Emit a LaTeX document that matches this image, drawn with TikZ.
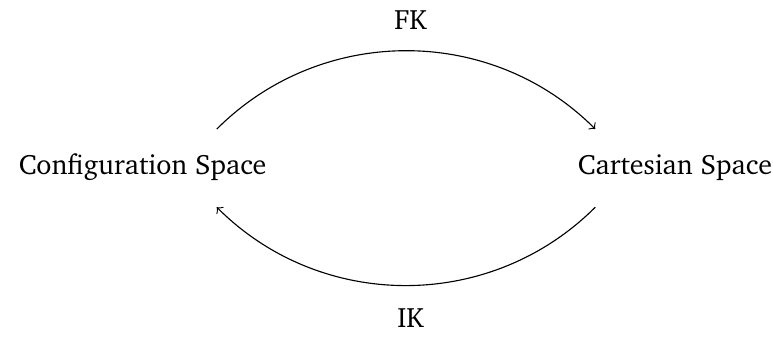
\documentclass[tikz,border=0pt]{standalone}
\usepackage[T1]{fontenc}
\renewcommand{\rmdefault}{bch}
\begin{document}
\begin{tikzpicture}
            \useasboundingbox (0,0) rectangle (9.70,4.22);

            % Spaces
            \node (conf) at (1.79, 2.12) {Configuration Space};
            \node (cart) at (8.47, 2.12) {Cartesian Space};

            % Arc end points
            \coordinate (fkstart) at (2.72, 2.60);
            \coordinate (fkend) at (7.47, 2.60);
            \coordinate (ikstart) at (7.47, 1.62);
            \coordinate (ikend) at (2.72, 1.62);

            % Forward and inverse kinematics
            \draw [->] (fkstart) to [bend left=45] (fkend);
            \draw [->] (ikstart) to [bend left=45] (ikend);

            % Labels
            \node (fk) at (5.15, 3.97) {FK};
            \node (ik) at (5.15, 0.23) {IK};
        \end{tikzpicture}
\end{document}
